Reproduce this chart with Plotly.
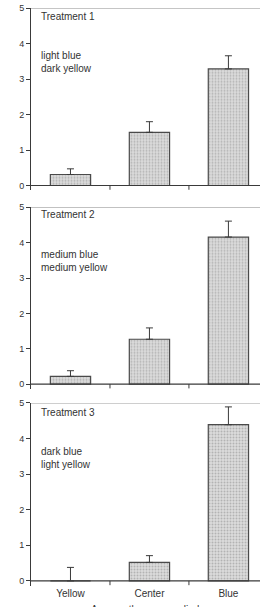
import plotly.graph_objects as go

categories = ["Yellow", "Center", "Blue"]
treat_names = ["Treatment 1", "Treatment 2", "Treatment 3"]
treat_desc = ["light blue<br>dark yellow", "medium blue<br>medium yellow", "dark blue<br>light yellow"]
t1_vals = [0.31, 1.50, 3.29]
t1_err = [0.16, 0.30, 0.37]
t2_vals = [0.22, 1.27, 4.16]
t2_err = [0.16, 0.32, 0.45]
t3_vals = [0.00, 0.52, 4.39]
t3_err = [0.38, 0.19, 0.50]
y_ticks = [0, 1, 2, 3, 4, 5]
x_title = "Area on the paper cylinder"

W, H = 260, 607
ML = 31
YMIN, YMAX = -0.14, 5
# pixel positions of y=5 and y=0 for each panel
panel_px = [(3.3, 182.0), (204.0, 382.3), (401.3, 580.7)]
title_px = [11.5, 211.5, 410.5]
desc_px = [57.5, 258.5, 456.5]

fig = go.Figure()
series = [(t1_vals, t1_err), (t2_vals, t2_err), (t3_vals, t3_err)]
FONT = "Liberation Sans, Arial, sans-serif"
TXT = "#333333"
LINE = "#3a3a3a"

for i, ((vals, errs), (p5, p0)) in enumerate(zip(series, panel_px)):
    n = i + 1
    xa = "x" if n == 1 else f"x{n}"
    ya = "y" if n == 1 else f"y{n}"
    unit = (p0 - p5) / 5.0
    top_px = p5
    bot_px = p0 + (-YMIN) * unit
    dom = [1 - bot_px / H, 1 - top_px / H]
    fig.add_trace(go.Bar(
        x=categories, y=vals, xaxis=xa, yaxis=ya, width=0.51,
        marker=dict(color="#d2d2d2",
                    line=dict(color="#4a4a4a", width=1.2),
                    pattern=dict(shape=".", fgcolor="#8a8a8a", bgcolor="#dcdcdc",
                                 size=3, solidity=0.35)),
        error_y=dict(type="data", symmetric=False, array=errs,
                     arrayminus=[0] * len(errs), color=LINE, thickness=1, width=3.5),
        showlegend=False,
    ))
    xkey = "xaxis" if n == 1 else f"xaxis{n}"
    ykey = "yaxis" if n == 1 else f"yaxis{n}"
    fig.layout[xkey] = dict(
        domain=[0, 1], anchor=ya, type="category", range=[-0.5, 2.4],
        showline=False, showgrid=False, zeroline=False, ticks="",
        showticklabels=(n == 3),
        tickfont=dict(family=FONT, size=10, color=TXT),
    )
    fig.layout[ykey] = dict(
        domain=dom, anchor=xa, range=[YMIN, YMAX],
        tickvals=y_ticks, ticktext=[str(v) for v in y_ticks],
        showline=True, linecolor=LINE, linewidth=1,
        ticks="outside", ticklen=4, tickcolor=LINE, tickwidth=1,
        showgrid=False, zeroline=False,
        tickfont=dict(family=FONT, size=9, color=TXT),
    )
    # baseline at zero
    fig.add_shape(type="line", xref=f"{xa} domain", yref=ya, x0=0, x1=1, y0=0, y1=0,
                  line=dict(color=LINE, width=1.2))
    # top border at 5
    fig.add_shape(type="line", xref=f"{xa} domain", yref=ya, x0=0, x1=1, y0=5, y1=5,
                  line=dict(color="#9a9a9a", width=1))
    # category separator ticks
    for tx in [0.5, 1.5]:
        fig.add_shape(type="line", xref=xa, yref=ya, x0=tx, x1=tx, y0=0, y1=-0.12,
                      line=dict(color=LINE, width=1))
    fig.add_annotation(xref=f"{xa} domain", yref=ya, x=(39 - ML) / (W - ML),
                       y=5 - (title_px[i] - p5) / unit,
                       text=treat_names[i], showarrow=False, xanchor="left", yanchor="middle",
                       font=dict(family=FONT, size=10, color=TXT))
    fig.add_annotation(xref=f"{xa} domain", yref=ya, x=(39 - ML) / (W - ML),
                       y=5 - (desc_px[i] - p5) / unit,
                       text=treat_desc[i], showarrow=False, xanchor="left", yanchor="middle",
                       align="left", font=dict(family=FONT, size=10, color=TXT))

fig.add_annotation(xref="paper", yref="paper", x=(150 - ML) / (W - ML),
                   y=1 - 602 / H, text=x_title, showarrow=False, yanchor="top",
                   font=dict(family=FONT, size=10, color=TXT))

fig.update_layout(
    width=W, height=H, margin=dict(l=ML, r=0, t=0, b=0),
    paper_bgcolor="white", plot_bgcolor="white", bargap=0.3,
    font=dict(family=FONT, color=TXT),
)
fig.write_html("out.html")
